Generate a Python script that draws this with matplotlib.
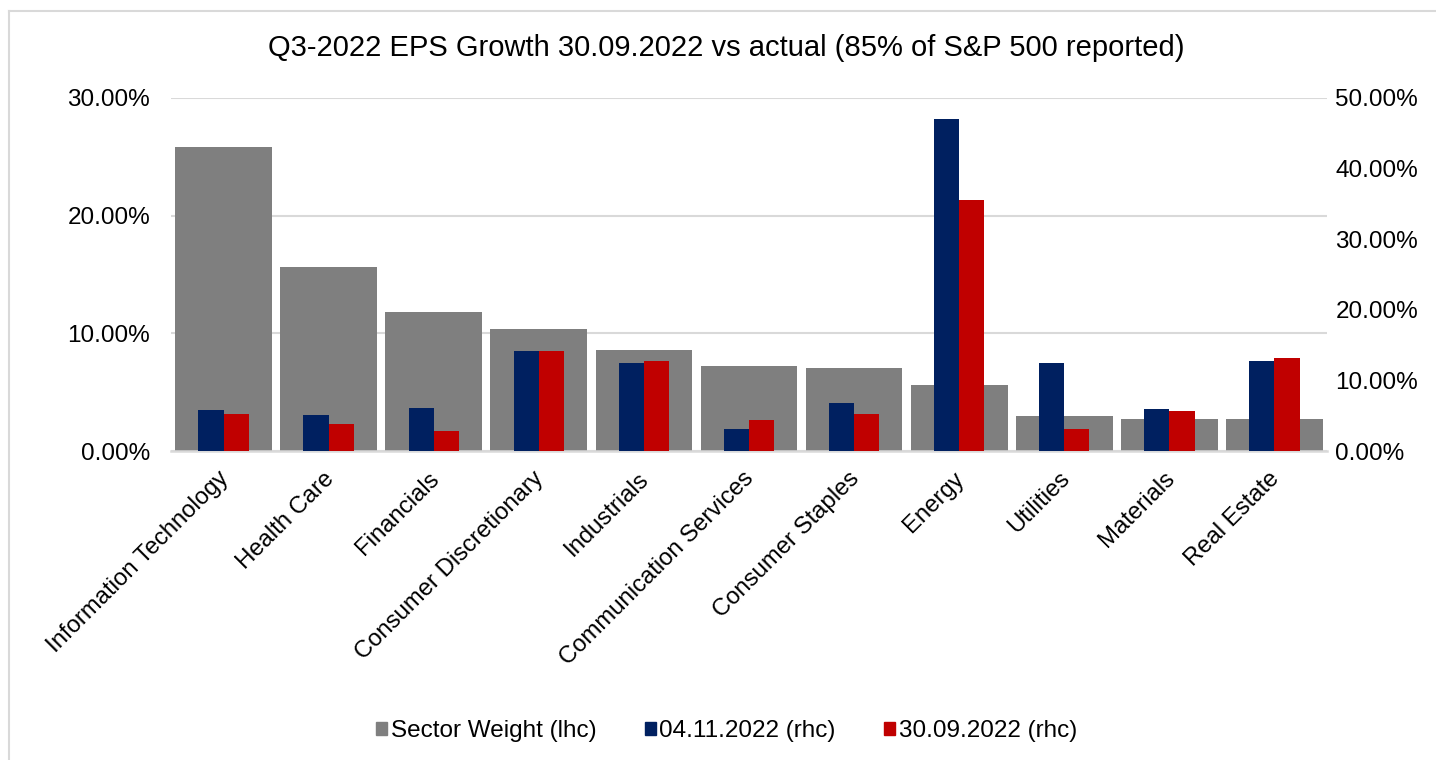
import matplotlib.pyplot as plt
import numpy as np
from matplotlib.patches import Patch
from matplotlib.ticker import PercentFormatter
from matplotlib.transforms import ScaledTranslation

plt.rcParams['font.family'] = ['Liberation Sans', 'DejaVu Sans']

# Sector names
sectors = ['Information Technology', 'Health Care', 'Financials',
           'Consumer Discretionary', 'Industrials', 'Communication Services',
           'Consumer Staples', 'Energy', 'Utilities', 'Materials', 'Real Estate']

# Sector weight in the S&P 500 (left axis, %)
sector_weight = [25.8, 15.6, 11.8, 10.4, 8.6, 7.2, 7.05, 5.6, 3.0, 2.7, 2.7]

# EPS growth estimates (right axis, %)
eps_0411 = [5.8, 5.1, 6.1, 14.2, 12.4, 3.1, 6.8, 47.0, 12.5, 6.0, 12.8]
eps_3009 = [5.2, 3.8, 2.8, 14.2, 12.8, 4.4, 5.2, 35.5, 3.1, 5.7, 13.2]

grey = '#7f7f7f'
navy = '#002060'
red = '#c00000'
grid_col = '#d9d9d9'

fig = plt.figure(figsize=(14.36, 7.6), dpi=100)
ax = fig.add_axes([171 / 1436, 1 - 451 / 760, (1327 - 171) / 1436, (451 - 98) / 760])
ax2 = ax.twinx()

x = np.arange(len(sectors))
ax.bar(x, sector_weight, width=0.92, color=grey, zorder=2)
ax.set_xlim(-0.5, len(sectors) - 0.5)
ax.set_ylim(0, 30)
ax.set_yticks([0, 10, 20, 30])
ax.yaxis.set_major_formatter(PercentFormatter(decimals=2))
ax.grid(axis='y', color=grid_col, linewidth=1.5, zorder=0)
ax.set_axisbelow(True)

w = 0.24
ax2.bar(x - w / 2, eps_0411, width=w, color=navy, zorder=3)
ax2.bar(x + w / 2, eps_3009, width=w, color=red, zorder=3)
ax2.set_ylim(0, 50)
ax2.set_yticks([0, 10, 20, 30, 40, 50])
ax2.yaxis.set_major_formatter(PercentFormatter(decimals=2))

for a in (ax, ax2):
    for s in ['top', 'left', 'right']:
        a.spines[s].set_visible(False)
    a.tick_params(length=0, labelsize=17.5, colors='#000000')
ax.spines['bottom'].set_color(grid_col)
ax.spines['bottom'].set_linewidth(1.8)
ax2.spines['bottom'].set_visible(False)
ax.tick_params(axis='y', pad=15)
ax2.tick_params(axis='y', pad=6)

ax.set_xticks(x)
ax.set_xticklabels(sectors, rotation=45, ha='right', rotation_mode='anchor', fontsize=17.2)
ax.tick_params(axis='x', pad=12)
# nudge the rotated labels a few pixels left
shift = ScaledTranslation(-6 / 100, 0, fig.dpi_scale_trans)
for lbl in ax.get_xticklabels():
    lbl.set_transform(lbl.get_transform() + shift)

fig.text(0.506, 1 - 48 / 760, 'Q3-2022 EPS Growth 30.09.2022 vs actual (85% of S&P 500 reported)',
         ha='center', va='center', fontsize=21)

handles = [Patch(color=grey, label='Sector Weight (lhc)'),
           Patch(color=navy, label='04.11.2022 (rhc)'),
           Patch(color=red, label='30.09.2022 (rhc)')]
fig.legend(handles=handles, loc='center', bbox_to_anchor=(0.506, 1 - 731 / 760), ncol=3,
           frameon=False, fontsize=17.5, handlelength=0.45, handleheight=0.45,
           handletextpad=0.15, columnspacing=2.0)

# light grey chart border (top and left edges visible)
fig.add_artist(plt.Line2D([9 / 1436, 1], [1 - 11 / 760, 1 - 11 / 760], color=grid_col, linewidth=1.5))
fig.add_artist(plt.Line2D([9 / 1436, 9 / 1436], [0, 1 - 11 / 760], color=grid_col, linewidth=1.5))

fig.savefig('out.png', dpi=100)
